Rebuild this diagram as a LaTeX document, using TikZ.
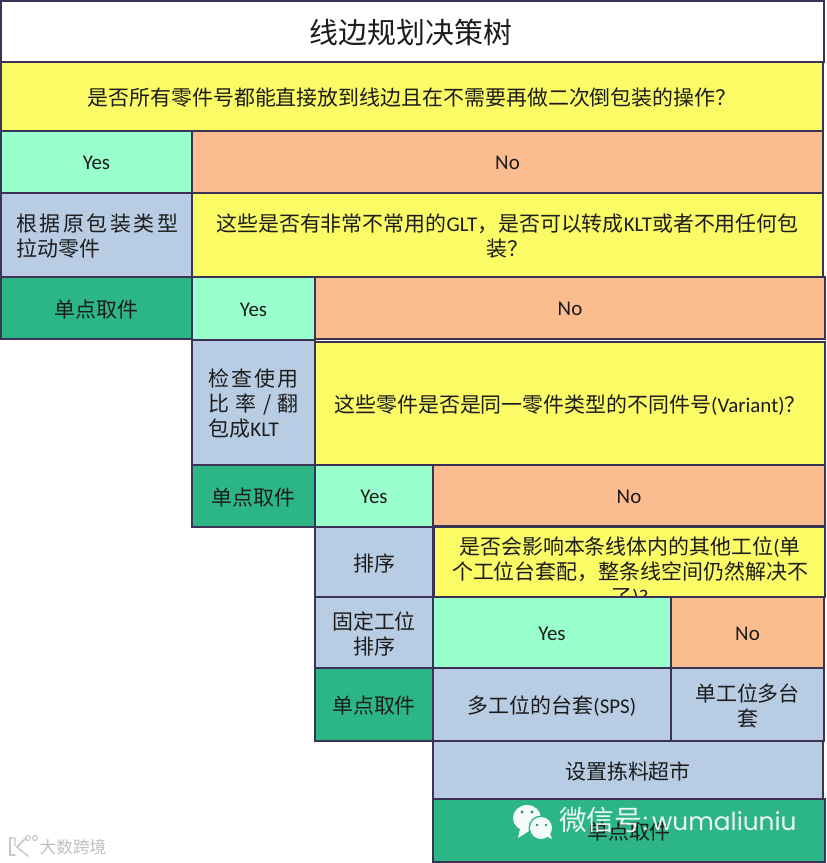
\documentclass[tikz,border=0pt]{standalone}
\usepackage{fontspec}
\setmainfont{Carlito}
\newfontfamily\zhf{Noto Sans CJK SC}
\newfontfamily\zhwide[LetterSpace=12]{Noto Sans CJK SC}
\newfontfamily\markf{Poppins}
\newcommand\zh[1]{{\zhf #1}}
\definecolor{edgec}{HTML}{3B3355}
\definecolor{qyellow}{HTML}{FBFB66}
\definecolor{yesgreen}{HTML}{99FFCC}
\definecolor{noorange}{HTML}{FBBC8F}
\definecolor{actblue}{HTML}{B8CCE4}
\definecolor{endgreen}{HTML}{2CB585}
\definecolor{inkc}{HTML}{1C1C1C}
\tikzset{
  cellbox/.style={draw=edgec,line width=1.6pt,inner sep=0pt,outer sep=0pt},
  titlecell/.style={cellbox,fill=white},
  question/.style={cellbox,fill=qyellow},
  yescell/.style={cellbox,fill=yesgreen},
  nocell/.style={cellbox,fill=noorange},
  actcell/.style={cellbox,fill=actblue},
  endcell/.style={cellbox,fill=endgreen},
  freetext/.style={inner sep=0pt,outer sep=0pt,align=center,text=inkc,font=\fontsize{15.7}{18.6}\selectfont},
  titletext/.style={freetext,font=\fontsize{21.7}{26}\selectfont},
  markwhite/.style={inner sep=0pt,outer sep=0pt,text=white,font=\fontsize{18.6}{24}\selectfont},
}
\newcommand\cellbg[6]{%
  \node[#2,minimum width={(#5-#3)*0.75pt},minimum height={(#6-#4)*0.75pt}] (#1)
    at ({(#3+#5)/2},{(#4+#6)/2}) {};}
\newcommand\cell[7]{%
  \cellbg{#1}{#2}{#3}{#4}{#5}{#6}%
  \node[freetext] (#1text) at ([yshift=-0.9pt]#1.center) {#7};}
\begin{document}
\begin{tikzpicture}[x=0.75pt,y=-0.75pt]
\useasboundingbox (0,0) rectangle (826,863);
\fill[white] (0,0) rectangle (826,863);
\cellbg{title}{titlecell}{1}{1}{824}{62}
\node[titletext] (titletext) at (411,32) {\zh{线边规划决策树}};
\cell{qone}{question}{1}{62}{823}{131}{\zh{是否所有零件号都能直接放到线边且在不需要再做二次倒包装的操作？}}
\cell{yesone}{yescell}{1}{131}{192}{193}{Yes}
\cell{noone}{nocell}{192}{131}{823}{193}{No}
\cell{actone}{actcell}{1}{193}{192}{277}{\makebox[120pt][l]{\zhwide 根据原包装类型}\\\makebox[120pt][l]{\zh{拉动零件}}}
\cell{qtwo}{question}{192}{193}{823}{277}{\zh{这些是否有非常不常用的}GLT\zh{，是否可以转成}KLT\zh{或者不用任何包}\\\zh{装？}}
\cell{endone}{endcell}{1}{277}{192}{339}{\zh{单点取件}}
\cell{notwo}{nocell}{315}{277}{825}{339}{No}
\cell{yestwo}{yescell}{192}{277}{315}{340}{Yes}
\cell{acttwo}{actcell}{192}{340}{315}{465}{\makebox[67.5pt][s]{\zhf 检\hfill 查\hfill 使\hfill 用}\\\makebox[67.5pt][s]{\zhf 比\hfill 率\hfill /\hfill 翻}\\\makebox[67.5pt][l]{\zh{包成}KLT}}
\cell{qthree}{question}{315}{342}{825}{465}{\zh{这些零件是否是同一零件类型的不同件号}(Variant)\zh{？}}
\cell{endtwo}{endcell}{192}{465}{315}{527}{\zh{单点取件}}
\cell{nothree}{nocell}{433}{465}{825}{526}{No}
\cell{yesthree}{yescell}{315}{465}{433}{527}{Yes}
\cell{actthree}{actcell}{315}{527}{433}{597}{\zh{排序}}
\cellbg{qfour}{question}{434}{527}{825}{597}
\begin{scope}
  \clip (435,528) rectangle (824,596);
  \node[freetext] (qfourtext) at (630,572) {\zh{是否会影响本条线体内的其他工位}(\zh{单}\\\zh{个工位台套配，整条线空间仍然解决不}\\\zh{了})?};
\end{scope}
\cell{actfour}{actcell}{315}{597}{433}{668}{\zh{固定工位}\\\zh{排序}}
\cell{yesfour}{yescell}{433}{597}{671}{668}{Yes}
\cell{nofour}{nocell}{671}{597}{824}{668}{No}
\cell{endthree}{endcell}{315}{668}{433}{741}{\zh{单点取件}}
\cell{multi}{actcell}{433}{668}{671}{741}{\zh{多工位的台套}(SPS)}
\cell{single}{actcell}{671}{668}{824}{741}{\zh{单工位多台}\\\zh{套}}
\cell{market}{actcell}{433}{741}{823}{799}{\zh{设置拣料超市}}
\cell{endfour}{endcell}{433}{799}{825}{862}{\zh{单点取件}}
% WeChat watermark
\fill[white,opacity=.95] (527,818) ellipse (14 and 13);
\fill[white,opacity=.95] (520,829) -- (518,838) -- (529,831) -- cycle;
\fill[endgreen] (541,828) circle (12.5);
\fill[white,opacity=.95] (541,828) circle (11);
\fill[white,opacity=.95] (546,836) -- (552,839) -- (549,831) -- cycle;
\fill[endgreen!80!black] (522,812) circle (1.7) (532,812) circle (1.7) (537,825) circle (1.4) (546,825) circle (1.4);
\node[markwhite,anchor=west,opacity=.9] (wechat) at (559,820) {{\fontsize{20.8}{24}\zhf\selectfont 微信号}{\markf\hspace{.5pt}:\hspace{3pt}wumaliuniu}};
% bottom-left watermark
\begin{scope}[draw=black!22,line width=1.1pt,line cap=round]
  \draw (10,838) -- (10,855) -- (15,855);
  \draw (26,838) -- (17,847) -- (28,856) (10,838) -- (15,838) -- (15,846);
  \draw[line width=.8pt] (28,838) circle (2.5) (35,838) circle (2.5);
\end{scope}
\node[inner sep=0pt,text=black!25,font=\fontsize{12.5}{15}\selectfont] (brand) at (73,847) {\zh{大数跨境}};
\end{tikzpicture}
\end{document}
